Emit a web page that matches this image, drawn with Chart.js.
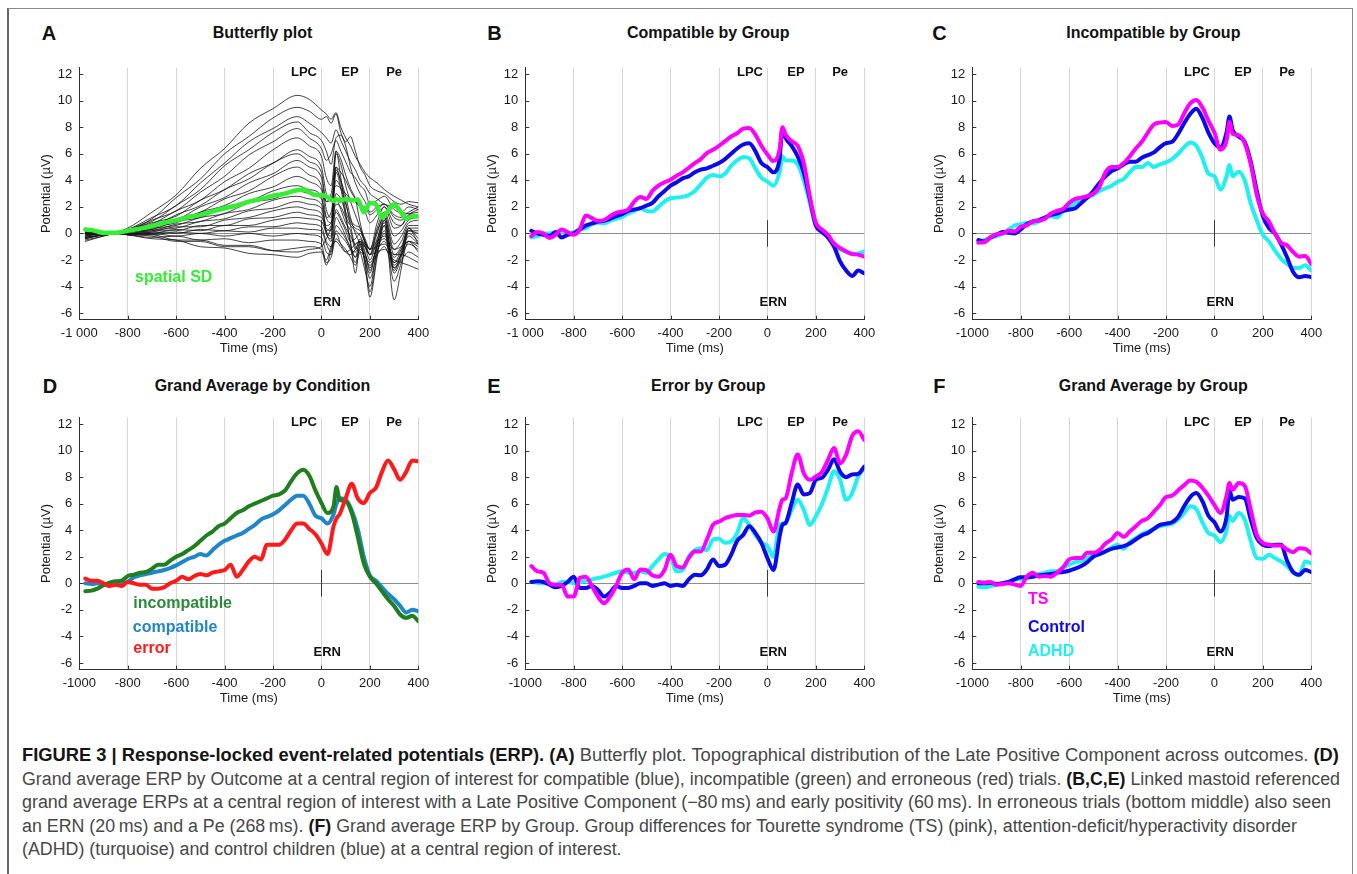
<!DOCTYPE html>
<html><head><meta charset="utf-8">
<script src="https://cdn.jsdelivr.net/npm/chart.js@4.4.1/dist/chart.umd.min.js"></script>
<style>
html,body{margin:0;padding:0;background:#fff}
body{width:1357px;height:874px;position:relative;overflow:hidden;font-family:"Liberation Sans",Arial,Helvetica,sans-serif}
.frame{position:absolute;left:7px;top:8px;width:1346px;height:900px;border-left:2px solid #666;border-top:1px solid #8a8a8a;border-right:1.5px solid #8a8a8a;box-sizing:border-box}
.pl{position:absolute;font-weight:bold;font-size:20px;line-height:22px;color:#111;transform:translateY(-50%)}
.pt{position:absolute;font-weight:bold;font-size:16px;line-height:18px;color:#111;white-space:nowrap;transform:translate(-50%,-50%)}
.cv{position:absolute}
.cap{position:absolute;left:22px;white-space:nowrap;color:#474747;font-size:16px;line-height:22px;transform-origin:0 50%}
.cap b{color:#151515}
</style>
</head><body>
<div class="frame"></div>
<div id="root"></div>
<div class="cap" id="c1"><b>FIGURE 3 | Response-locked event-related potentials (ERP). (A)</b> Butterfly plot. Topographical distribution of the Late Positive Component across outcomes. <b>(D)</b></div>
<div class="cap" id="c2">Grand average ERP by Outcome at a central region of interest for compatible (blue), incompatible (green) and erroneous (red) trials. <b>(B,C,E)</b> Linked mastoid referenced</div>
<div class="cap" id="c3">grand average ERPs at a central region of interest with a Late Positive Component (−80&#8201;ms) and early positivity (60&#8201;ms). In erroneous trials (bottom middle) also seen</div>
<div class="cap" id="c4">an ERN (20&#8201;ms) and a Pe (268&#8201;ms). <b>(F)</b> Grand average ERP by Group. Group differences for Tourette syndrome (TS) (pink), attention-deficit/hyperactivity disorder</div>
<div class="cap" id="c5">(ADHD) (turquoise) and control children (blue) at a central region of interest.</div>
<script>
// ---------------- DATA ----------------
const TIME = [-975,-950,-925,-900,-875,-850,-825,-800,-775,-750,-725,-700,-675,-650,-625,-600,-575,-550,-525,-500,-475,-450,-425,-400,-375,-350,-325,-300,-275,-250,-225,-200,-175,-150,-125,-100,-75,-50,-25,0,25,50,62,75,100,125,150,175,200,225,250,275,300,325,350,375,400];

const X_TICKS = [-1000,-800,-600,-400,-200,0,200,400];
const X_LABELS_SPACED = ['-1 000','-800','-600','-400','-200','0','200','400'];
const X_LABELS_PLAIN = ['-1000','-800','-600','-400','-200','0','200','400'];
const Y_TICKS = [-6,-4,-2,0,2,4,6,8,10,12];
const Y_LABELS = ['-6','-4','-2','0','2','4','6','8','10','12'];

// Panel A: spatial SD + butterfly channels
const A_SD = [0.3,0.25,0.15,0.05,0.05,0.05,0.1,0.2,0.28,0.35,0.45,0.55,0.68,0.8,0.9,1.0,1.12,1.25,1.32,1.4,1.52,1.65,1.78,1.9,2.0,2.1,2.25,2.4,2.5,2.6,2.72,2.85,2.92,3.0,3.15,3.25,3.3,3.1,2.9,2.9,2.75,2.45,2.6,2.45,2.6,2.5,2.55,1.6,2.3,2.2,1.2,1.7,2.2,1.7,1.1,1.3,1.3];
const BF_TIME = [-975,-900,-850,-800,-700,-600,-500,-400,-300,-200,-100,-50,0,20,40,60,80,100,120,140,160,180,200,230,260,300,330,360,400];
const BUTTERFLY_CHANNELS = [
 [-0.2,0.0,0.1,0.4,1.6,2.9,4.9,6.4,8.3,9.4,10.4,10.1,9.3,9.0,8.6,9.1,8.0,7.2,6.6,5.8,5.2,4.6,4.2,3.8,3.3,2.8,2.5,2.2,2.0],
 [-0.1,0.0,0.1,0.3,1.1,2.7,4.1,6.0,7.3,8.7,9.5,9.2,8.6,8.8,8.3,9.0,7.6,6.9,7.3,6.2,5.0,4.4,3.6,3.2,3.0,2.4,2.2,2.4,2.3],
 [0.1,0.0,0.1,0.3,1.2,2.1,3.8,5.3,6.9,7.9,8.8,8.3,7.6,7.2,6.8,7.8,7.0,6.2,5.4,4.8,4.0,3.6,3.0,2.6,2.2,2.0,1.6,1.5,1.4],
 [-0.3,-0.1,0.1,0.3,0.9,2.1,3.3,5.1,6.3,7.6,8.4,7.6,7.0,6.2,5.2,7.2,7.4,6.6,5.0,3.8,3.0,2.4,1.6,2.0,2.2,1.2,1.0,1.3,1.2],
 [0.2,0.0,0.0,0.2,1.0,1.7,3.1,4.3,5.9,6.9,7.9,7.2,6.4,5.5,6.0,7.0,6.2,5.4,4.6,4.2,3.6,3.2,2.2,2.5,2.8,1.8,1.6,2.0,1.8],
 [-0.4,-0.1,0.0,0.2,0.7,1.7,2.5,3.9,4.9,6.3,7.2,6.6,5.8,4.2,3.6,6.2,5.6,4.4,3.4,2.6,0.8,-0.6,-1.2,0.8,2.0,0.4,0.6,1.4,1.6],
 [0.0,0.0,0.0,0.2,0.8,1.3,2.5,3.3,4.5,5.3,6.3,5.8,5.0,3.0,2.4,6.0,5.2,3.6,2.4,1.4,0.4,-0.8,-1.6,0.4,1.6,-0.2,0.2,1.0,1.2],
 [0.3,0.1,0.0,0.2,0.5,1.4,2.1,3.3,4.1,5.3,6.0,5.4,4.6,2.4,3.0,5.0,4.6,4.0,3.2,2.6,2.0,1.6,0.8,1.4,2.0,0.8,0.6,1.4,1.8],
 [-0.2,0.0,0.0,0.1,0.6,1.0,2.0,2.7,3.8,4.5,5.5,5.0,4.2,1.8,1.2,4.8,4.0,2.8,1.2,0.0,-0.8,-2.0,-3.0,-0.6,1.2,-1.6,-1.0,0.4,0.4],
 [0.1,0.0,0.0,0.1,0.4,1.1,1.6,2.6,3.2,4.3,5.0,4.4,3.6,1.2,0.8,5.0,3.8,2.4,0.6,-1.0,-1.4,-2.8,-4.0,-1.0,1.0,-2.6,-1.6,0.2,0.0],
 [0.0,0.0,0.0,0.1,0.5,0.8,1.6,2.1,3.0,3.5,4.3,3.9,3.3,2.4,2.6,3.6,3.4,3.0,2.6,2.4,2.0,2.0,1.4,1.8,2.2,1.4,1.2,1.6,2.0],
 [-0.5,-0.2,0.0,0.1,0.3,0.9,1.2,2.0,2.4,3.2,3.6,3.3,2.8,0.2,-0.2,6.2,4.2,1.6,-0.8,-1.8,-0.6,-2.4,-4.8,-1.8,1.0,-3.0,-1.8,0.0,-0.6],
 [0.2,0.1,0.0,0.1,0.4,0.6,1.2,1.5,2.3,2.6,3.2,3.0,2.6,1.2,1.6,4.0,3.4,2.2,1.0,0.6,0.4,-0.6,-1.6,0.0,1.4,-0.8,-0.2,0.8,1.0],
 [-0.3,-0.1,0.0,0.1,0.2,0.7,0.9,1.5,1.8,2.5,2.8,2.6,2.2,0.0,-0.4,4.6,3.4,1.2,-0.6,-3.0,-0.8,-2.2,-4.4,-1.6,0.6,-5.0,-2.6,0.4,-0.8],
 [0.1,0.0,0.0,0.1,0.3,0.4,0.9,1.1,1.7,1.9,2.4,2.2,1.9,0.6,0.8,3.0,2.6,1.6,0.8,0.4,0.2,-0.4,-1.2,0.2,1.2,-1.2,-0.6,0.6,0.6],
 [-0.1,0.0,0.0,0.0,0.1,0.5,0.5,1.0,1.2,1.7,2.0,1.8,1.5,0.2,0.6,2.2,2.0,1.2,0.6,0.2,-0.2,-1.0,-2.0,-0.4,0.8,-2.2,-1.2,0.2,0.2],
 [0.4,0.1,0.0,0.0,0.2,0.2,0.6,0.6,1.1,1.2,1.6,1.4,1.2,0.4,0.2,2.6,1.8,0.8,0.2,-1.2,-0.4,-1.4,-2.8,-0.8,0.6,-2.8,-1.4,0.4,-0.4],
 [-0.2,0.0,0.0,0.0,0.0,0.3,0.2,0.6,0.6,1.0,1.2,1.1,0.9,0.0,-0.6,1.8,1.2,0.4,-0.2,-0.8,-0.6,-1.6,-2.6,-1.0,0.2,-2.4,-1.6,-0.2,-0.8],
 [0.0,0.0,0.0,0.0,0.1,0.0,0.3,0.2,0.5,0.5,0.8,0.7,0.5,-0.6,-1.0,1.2,0.6,-0.2,-1.2,-2.2,-1.0,-2.0,-3.4,-1.4,0.0,-3.6,-2.2,-0.6,-1.4],
 [-0.6,-0.2,0.0,0.0,-0.1,0.1,0.0,0.2,0.1,0.4,0.4,0.3,0.2,-0.8,-1.4,0.6,0.2,-0.4,-1.0,-1.8,-1.2,-1.6,-2.2,-1.2,-0.6,-2.2,-1.6,-0.8,-1.2],
 [0.2,0.0,0.0,-0.1,0.0,-0.2,0.0,-0.2,0.0,-0.2,0.0,-0.1,-0.3,-1.4,-1.6,0.2,-0.2,-0.6,-1.2,-1.4,-0.8,-1.0,-1.6,-0.8,-0.4,-1.8,-1.2,-0.6,-0.8],
 [-0.4,-0.1,0.0,-0.1,-0.3,-0.2,-0.5,-0.4,-0.7,-0.5,-0.5,-0.6,-0.8,-2.2,-1.8,-0.4,-0.8,-1.2,-1.8,-2.4,-1.4,-1.8,-2.4,-1.6,-1.0,-2.6,-2.0,-1.4,-1.8],
 [0.0,0.0,0.0,-0.1,-0.2,-0.6,-0.6,-1.0,-1.0,-1.3,-1.1,-1.0,-1.2,-2.4,-1.2,0.0,-0.8,-1.4,-1.6,-1.2,-0.6,-0.8,-1.2,-1.0,-0.8,-1.6,-1.6,-1.8,-2.2],
 [-0.3,-0.1,0.0,-0.1,-0.4,-0.5,-1.0,-1.1,-1.5,-1.6,-1.8,-1.5,-1.4,-2.0,-1.0,-0.6,-1.0,-1.4,-1.2,-0.8,-0.6,-1.0,-1.6,-1.4,-1.2,-2.0,-2.2,-2.4,-2.7],
 [0.1,0.0,0.0,-0.1,-0.1,-0.5,-0.5,-0.9,-0.9,-1.3,-1.4,-1.2,-1.0,-0.4,0.4,1.6,1.0,0.2,-0.6,-0.4,0.0,-0.6,-1.2,-0.6,-0.2,-1.2,-1.0,-0.6,-1.0]
];

// Panel B: compatible by group
const B_TS = [-0.2,0.1,0,-0.35,-0.1,0.3,0.1,-0.1,0.3,1.35,1.15,0.95,1.0,1.3,1.55,1.65,1.8,2.4,2.75,2.6,3.2,3.6,3.85,4.05,4.35,4.6,4.95,5.3,5.6,6.05,6.3,6.6,6.95,7.3,7.55,7.9,7.95,7.45,6.6,5.95,5.45,6.3,8.0,7.45,6.95,6.6,5.3,2.8,0.8,0.3,-0.1,-0.75,-1.1,-1.35,-1.55,-1.6,-1.75];
const B_CONTROL = [0.2,0,-0.1,-0.2,0.1,-0.3,-0.1,0,0.3,0.6,0.75,0.9,0.95,1.1,1.3,1.45,1.7,1.8,1.9,2.1,2.3,2.8,3.2,3.6,3.85,4.15,4.3,4.6,4.8,4.9,5.1,5.3,5.6,6.0,6.4,6.7,6.8,6.2,5.3,5.0,4.6,5.6,7.9,7.2,6.6,5.8,4.6,2.6,0.6,0.1,-0.3,-1.0,-2.1,-2.8,-3.2,-2.8,-3.0];
const B_ADHD = [-0.3,-0.2,0,0,0.1,0.2,0,0.1,0.3,0.4,0.7,0.8,0.75,0.95,1.1,1.25,1.5,1.7,1.9,1.7,1.65,2.0,2.4,2.65,2.7,2.75,2.9,3.2,3.7,4.2,4.4,4.3,4.5,5.1,5.5,5.75,5.65,4.9,4.2,3.9,3.6,4.6,5.8,5.5,5.5,5.2,4.0,2.3,0.6,0.3,-0.3,-0.9,-1.2,-1.4,-1.55,-1.5,-1.35];

// Panel C: incompatible by group
const C_TS = [-0.7,-0.65,-0.3,-0.05,0.0,0.2,0.15,0.5,0.6,0.9,0.95,1.1,1.5,1.7,1.85,2.3,2.6,2.7,2.8,3.0,3.5,4.6,5.0,5.0,5.3,5.8,6.4,6.9,7.6,8.2,8.35,8.4,8.1,8.2,9.05,9.8,10.05,9.5,8.5,7.6,6.3,7.0,8.4,7.5,7.4,6.8,5.2,2.9,1.5,0.9,0.0,-0.7,-0.9,-1.4,-1.75,-1.7,-2.3];
const C_CONTROL = [-0.5,-0.6,-0.3,-0.1,0.1,0.05,0.0,0.3,0.7,0.9,1.0,1.2,1.4,1.5,1.7,1.8,1.9,2.3,2.7,3.2,3.8,4.3,4.7,4.9,5.2,5.4,5.4,5.7,5.9,6.1,6.5,6.8,6.9,7.5,8.3,9.0,9.4,8.7,7.6,6.8,6.5,7.6,8.8,7.8,7.3,6.9,5.4,3.2,1.3,0.4,0.0,-0.8,-1.8,-2.9,-3.3,-3.2,-3.3];
const C_ADHD = [-0.6,-0.5,-0.35,-0.2,0.0,0.3,0.6,0.7,0.8,0.75,0.9,1.2,1.3,1.2,1.7,2.0,2.3,2.5,2.7,2.9,3.2,3.4,3.6,3.9,4.1,4.6,5.0,5.0,5.3,5.0,5.2,5.35,5.6,6.0,6.5,6.85,6.6,5.7,4.5,4.3,3.3,4.3,5.15,4.3,4.65,4.0,2.25,1.0,-0.1,-0.6,-1.3,-1.9,-2.3,-2.6,-2.6,-2.4,-2.8];

// Panel D: grand average by condition
const D_INCOMPATIBLE = [-0.6,-0.55,-0.4,-0.15,0.05,0.15,0.2,0.55,0.65,0.8,0.85,1.1,1.4,1.4,1.7,2.0,2.2,2.5,2.8,3.2,3.6,3.9,4.3,4.5,4.9,5.3,5.5,5.8,6.0,6.2,6.4,6.6,6.7,7.0,7.7,8.3,8.55,8.1,7.0,6.05,5.3,5.8,7.25,6.3,6.2,5.3,3.5,1.5,0.5,0.0,-0.6,-1.2,-1.7,-2.35,-2.6,-2.45,-2.85];
const D_COMPATIBLE = [0.0,-0.05,0.0,-0.1,-0.1,-0.05,0.0,0.1,0.45,0.6,0.7,0.8,0.9,1.0,1.15,1.35,1.6,1.85,2.0,2.2,2.1,2.5,2.9,3.2,3.4,3.6,3.8,4.1,4.4,4.8,5.0,5.2,5.5,5.9,6.3,6.6,6.6,6.0,5.1,4.9,4.5,5.2,6.0,6.4,6.3,5.5,4.1,2.0,0.6,0.2,-0.3,-0.8,-1.2,-1.7,-2.2,-2.0,-2.1];
const D_ERROR = [0.35,0.2,0.2,0.0,-0.2,-0.1,-0.2,0.1,0.0,-0.1,-0.1,-0.4,-0.4,-0.3,0.0,0.2,0.5,0.3,0.55,0.7,0.6,0.8,0.9,1.0,1.4,0.5,1.0,1.65,2.0,1.8,2.9,2.9,2.9,3.3,4.0,4.5,4.5,4.1,3.7,3.0,2.2,4.3,4.9,5.2,6.4,7.5,6.4,6.05,6.8,7.2,8.4,9.25,8.6,7.8,8.4,9.25,9.2];

// Panel E: error by group
const E_TS = [1.3,0.9,0.8,0.0,-0.1,-0.1,-1.0,-1.0,0.4,0.5,-0.2,-1.0,-1.5,-1.0,-0.2,0.8,1.05,0.3,1.05,1.0,0.6,0.5,1.0,2.15,1.3,1.2,1.9,2.4,2.4,3.3,4.4,4.65,4.9,5.05,5.15,5.15,5.1,5.35,5.4,4.9,3.9,5.65,6.3,6.4,8.3,9.7,8.3,7.8,8.05,8.4,9.3,10.2,9.05,9.7,11.1,11.45,10.8];
const E_CONTROL = [0.1,0.15,0.1,-0.1,-0.3,-0.2,0.1,0.5,-0.35,-0.35,-0.2,-0.5,-1.0,-0.7,-0.2,-0.35,-0.35,-0.2,0.0,0.0,-0.2,-0.1,0.0,-0.2,-0.1,-0.2,0.3,0.65,0.6,1.05,1.8,1.3,1.4,2.15,3.2,3.65,4.3,3.8,3.05,1.9,1.0,3.5,4.4,4.55,6.05,7.45,6.7,6.8,7.8,7.95,8.55,9.35,8.4,8.0,8.2,8.25,8.8];
const E_ADHD = [0.1,0.05,0.0,0.0,-0.1,0.1,0.1,0.0,0.1,0.2,0.3,0.4,0.5,0.65,0.8,0.9,0.8,0.8,0.9,0.8,1.3,1.8,2.2,2.0,0.9,1.0,2.0,2.5,2.65,2.5,3.3,3.35,3.05,3.15,3.8,4.9,4.4,3.65,3.05,2.8,2.0,4.4,4.5,4.55,5.55,6.3,5.55,4.4,5.05,5.95,7.2,8.45,7.8,6.3,6.8,8.05,8.75];

// Panel F: grand average by group
const F_TS = [0.1,0.05,0.1,-0.1,-0.05,0.0,-0.1,-0.2,0.5,0.8,0.5,0.55,0.5,0.8,1.2,1.8,1.9,1.9,2.3,2.3,2.5,3.0,3.3,3.8,3.5,3.9,4.3,4.7,4.9,5.4,5.9,6.5,6.6,7.0,7.4,7.75,7.65,7.2,6.6,5.9,5.3,6.6,7.55,7.05,7.55,7.35,5.55,3.65,3.05,2.9,2.85,2.85,2.55,2.35,2.65,2.6,2.25];
const F_CONTROL = [0.0,0.0,0.05,-0.05,0.0,0.1,0.3,0.45,0.45,0.5,0.6,0.65,0.7,0.8,0.85,0.95,1.1,1.3,1.6,2.0,2.2,2.4,2.6,2.7,2.8,3.0,3.3,3.6,3.8,4.1,4.4,4.5,4.6,5.0,5.8,6.5,6.8,6.2,5.1,4.6,3.9,5.0,7.0,6.3,6.5,6.4,4.8,3.4,2.9,2.8,2.9,2.9,1.7,0.85,0.65,1.0,0.85];
const F_ADHD = [-0.25,-0.3,-0.2,-0.1,0.0,0.1,0.3,0.3,0.4,0.6,0.7,0.8,0.9,0.9,1.2,1.4,1.6,1.7,1.9,2.1,2.2,2.4,2.7,2.9,2.6,3.1,3.4,3.7,3.9,4.1,4.3,4.4,4.5,4.8,5.3,5.8,5.6,4.6,3.8,3.6,3.1,4.0,5.1,4.7,5.3,4.8,3.2,1.9,1.85,2.15,1.9,1.65,1.3,0.8,0.6,1.65,1.5];

// ---------------- STYLE ----------------
const COL_TS = '#ff00ff', COL_CONTROL = '#0b0bea', COL_ADHD = '#1ff0f0';
const COL_INC = '#1f7f1f', COL_COMP = '#1f86c9', COL_ERR = '#ff1a1a', COL_SD = '#33ee33';
const FONT = '"Liberation Sans", Arial, Helvetica, sans-serif';
Chart.defaults.font.family = FONT;
Chart.defaults.color = '#1a1a1a';

const COL_X = [30, 476.4, 923];
const ROW_Y = [60, 410];
const CANVAS_W = 410, CANVAS_H = 297;
const PAD = [{top:7.5,bottom:0.8},{top:7.4,bottom:0.9}];
const LETTER_X = [[41.7,487.3,932.3],[42.7,487.3,933.3]];
const TITLE_X = [262.5,708.3,1153.3];
const HEAD_Y = [33,386];

function groupSeries(ts, ctrl, adhd){
  return [
    {t:TIME, v:ts, color:COL_TS, w:4},
    {t:TIME, v:ctrl, color:COL_CONTROL, w:4},
    {t:TIME, v:adhd, color:COL_ADHD, w:4}
  ];
}

const PANELS = [
  {letter:'A', title:'Butterfly plot', col:0,row:0, xlabels:X_LABELS_SPACED,
   series:[{t:TIME,v:A_SD,color:COL_SD,w:4.5}].concat(BUTTERFLY_CHANNELS.map(c=>({t:BF_TIME,v:c,color:'#111111',w:0.8}))),
   legend:[{text:'spatial SD',color:COL_SD,t:-770,v:-3.3}]},
  {letter:'B', title:'Compatible by Group', col:1,row:0, xlabels:X_LABELS_SPACED,
   series:groupSeries(B_TS,B_CONTROL,B_ADHD), legend:[]},
  {letter:'C', title:'Incompatible by Group', col:2,row:0, xlabels:X_LABELS_PLAIN,
   series:groupSeries(C_TS,C_CONTROL,C_ADHD), legend:[]},
  {letter:'D', title:'Grand Average by Condition', col:0,row:1, xlabels:X_LABELS_PLAIN,
   series:[{t:TIME,v:D_ERROR,color:COL_ERR,w:4},{t:TIME,v:D_INCOMPATIBLE,color:COL_INC,w:4},{t:TIME,v:D_COMPATIBLE,color:COL_COMP,w:4}],
   legend:[{text:'incompatible',color:'#2a8a3a',t:-777,v:-1.55},{text:'compatible',color:COL_COMP,t:-779,v:-3.3},{text:'error',color:COL_ERR,t:-777,v:-4.9}]},
  {letter:'E', title:'Error by Group', col:1,row:1, xlabels:X_LABELS_PLAIN,
   series:groupSeries(E_TS,E_CONTROL,E_ADHD), legend:[]},
  {letter:'F', title:'Grand Average by Group', col:2,row:1, xlabels:X_LABELS_PLAIN,
   series:groupSeries(F_TS,F_CONTROL,F_ADHD),
   legend:[{text:'TS',color:COL_TS,t:-770,v:-1.25},{text:'Control',color:COL_CONTROL,t:-770,v:-3.3},{text:'ADHD',color:COL_ADHD,t:-770,v:-5.17}]}
];

const COMPONENTS = [{text:'LPC',t:-72,v:12.1},{text:'EP',t:118,v:12.1},{text:'Pe',t:300,v:12.1},{text:'ERN',t:24,v:-5.2}];

const root = document.getElementById('root');

function makeOverlay(p){
  return {
    id:'overlay'+p.letter,
    beforeDatasetsDraw(chart){
      const {ctx, chartArea:a, scales:{x,y}} = chart;
      ctx.save();
      ctx.strokeStyle = '#3a3a3a'; ctx.lineWidth = 1;
      const x0 = Math.round(x.getPixelForValue(0))+0.5;
      ctx.beginPath(); ctx.moveTo(x0, y.getPixelForValue(-1)); ctx.lineTo(x0, y.getPixelForValue(1)); ctx.stroke();
      ctx.strokeStyle = '#333';
      Y_TICKS.forEach(v=>{ const py = Math.round(y.getPixelForValue(v))+0.5; ctx.beginPath(); ctx.moveTo(a.left, py); ctx.lineTo(a.left+4, py); ctx.stroke(); });
      X_TICKS.forEach(v=>{ const px = Math.round(x.getPixelForValue(v))+0.5; ctx.beginPath(); ctx.moveTo(px, a.bottom); ctx.lineTo(px, a.bottom-4); ctx.stroke(); });
      ctx.restore();
    },
    afterDatasetsDraw(chart){
      const {ctx, scales:{x,y}} = chart;
      ctx.save();
      ctx.textBaseline = 'middle';
      ctx.font = 'bold 13px ' + FONT; ctx.fillStyle = '#111'; ctx.textAlign = 'center';
      COMPONENTS.forEach(c=> ctx.fillText(c.text, x.getPixelForValue(c.t), y.getPixelForValue(c.v)));
      ctx.font = 'bold 16px ' + FONT; ctx.textAlign = 'left';
      p.legend.forEach(l=>{ ctx.fillStyle = l.color; ctx.fillText(l.text, x.getPixelForValue(l.t), y.getPixelForValue(l.v)); });
      ctx.restore();
    }
  };
}

PANELS.forEach(p=>{
  const left = COL_X[p.col], top = ROW_Y[p.row];
  const cv = document.createElement('canvas');
  cv.className = 'cv'; cv.width = CANVAS_W; cv.height = CANVAS_H;
  cv.style.left = left+'px'; cv.style.top = top+'px'; cv.style.width = CANVAS_W+'px'; cv.style.height = CANVAS_H+'px';
  root.appendChild(cv);

  const lt = document.createElement('div'); lt.className='pl'; lt.textContent=p.letter;
  lt.style.left = LETTER_X[p.row][p.col]+'px'; lt.style.top = HEAD_Y[p.row]+'px'; root.appendChild(lt);
  const tt = document.createElement('div'); tt.className='pt'; tt.textContent=p.title;
  tt.style.left = TITLE_X[p.col]+'px'; tt.style.top = HEAD_Y[p.row]+'px'; root.appendChild(tt);

  const datasets = p.series.map(s=>({
    data: s.t.map((t,i)=>({x:t, y:s.v[i]})),
    borderColor: s.color, borderWidth: s.w, pointRadius: 0, fill: false,
    cubicInterpolationMode: 'monotone', borderJoinStyle: 'round', borderCapStyle: 'round'
  }));
  const pad = PAD[p.row];
  new Chart(cv, {
    type: 'line',
    data: {datasets},
    plugins: [makeOverlay(p)],
    options: {
      responsive: false, animation: false, devicePixelRatio: 1, events: [],
      layout: {padding: {left:0, right: CANVAS_W - 49.3 - 339, top: pad.top, bottom: pad.bottom}},
      plugins: {legend:{display:false}, tooltip:{enabled:false}, title:{display:false}},
      scales: {
        x: {
          type:'linear', min:-1000, max:400,
          afterBuildTicks: s => { s.ticks = X_TICKS.map(v=>({value:v})); },
          afterFit: s => { s.height = 36.5; s.paddingLeft = 0; s.paddingRight = 0; },
          ticks: {callback: v => p.xlabels[X_TICKS.indexOf(v)], font:{size:13}, color:'#1a1a1a', padding:6, maxRotation:0, autoSkip:false},
          grid: {drawTicks:false, lineWidth:1, color: c => (c.tick && c.tick.value === -1000) ? 'rgba(0,0,0,0)' : '#d6d6d6'},
          border: {display:true, color:'#2e2e2e', width:1},
          title: {display:true, text:'Time (ms)', font:{size:13}, color:'#1a1a1a', padding:{top:0,bottom:0}}
        },
        y: {
          type:'linear', min:-6.5, max:12.5,
          afterBuildTicks: s => { s.ticks = Y_TICKS.map(v=>({value:v})); },
          afterFit: s => { s.width = 49.3; s.paddingTop = 0; s.paddingBottom = 0; },
          ticks: {callback: v => Y_LABELS[Y_TICKS.indexOf(v)], font:{size:13}, color:'#1a1a1a', padding:7},
          grid: {drawTicks:false, lineWidth:1, color: c => (c.tick && c.tick.value === 0) ? '#8c8c8c' : 'rgba(0,0,0,0)'},
          border: {display:true, color:'#2e2e2e', width:1},
          title: {display:true, text:'Potential (µV)', font:{size:13}, color:'#1a1a1a', padding:{top:9,bottom:0}}
        }
      }
    }
  });
});

// caption layout: each line fitted to its measured extent in the reference
const CAP_Y = [755, 778.5, 802, 825.5, 849];
const CAP_W = [1317, 1318, 1309, 1275, 0];
function layoutCaption(){
  const ids = ['c1','c2','c3','c4','c5'];
  const second = document.getElementById('c2');
  second.style.fontSize = '16px'; second.style.transform = 'none';
  const fs = 16 * CAP_W[1] / second.getBoundingClientRect().width;
  let sum = 0, n = 0;
  ids.forEach((id,i)=>{
    const el = document.getElementById(id);
    el.style.transform = 'none';
    el.style.fontSize = fs.toFixed(2)+'px';
    el.style.top = (CAP_Y[i] - 11)+'px';
    if (CAP_W[i]) {
      const k = CAP_W[i] / el.getBoundingClientRect().width;
      if (i > 0) { sum += k; n++; }
      el.style.transform = 'scaleX(' + k.toFixed(4) + ')';
    } else {
      el.style.transform = 'scaleX(' + (sum/n).toFixed(4) + ')';
    }
  });
}
layoutCaption();
if (document.fonts && document.fonts.ready) document.fonts.ready.then(layoutCaption);
</script>
</body></html>
